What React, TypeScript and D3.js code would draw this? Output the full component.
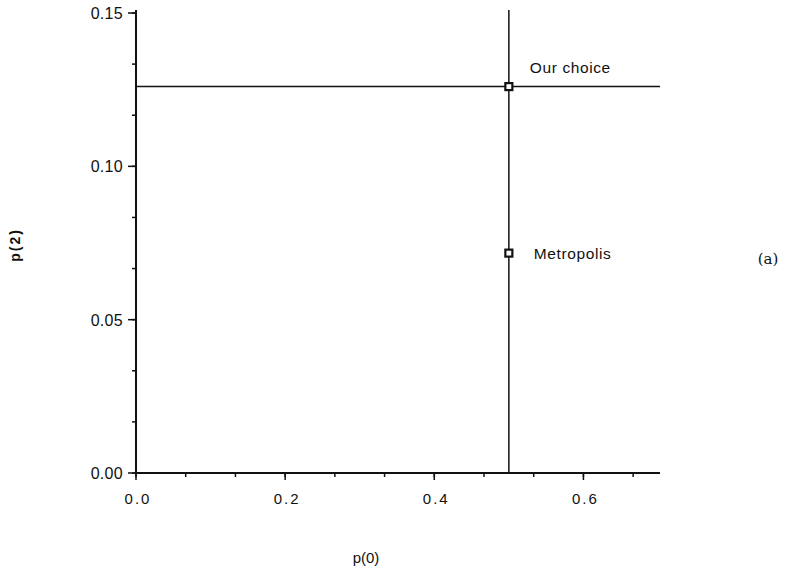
import * as d3 from 'd3';
import { useRef, useEffect } from 'react';

// AXIS RANGES AND TICKS
const xDomain = [0, 0.7];
const yDomain = [0, 0.15];
const xMajorTicks = [0, 0.2, 0.4, 0.6];
const yMajorTicks = [0, 0.05, 0.1, 0.15];
const xMinorTicks = d3.range(0, 11).map((i) => i / 15);
const yMinorTicks = d3.range(0, 10).map((i) => i / 60);

// GUIDE LINES
const guideP0 = 0.5;
const guideP2 = 0.126;

// POINTS
const pointLabels = ['Our choice', 'Metropolis'];
const pointP0 = [0.5, 0.5];
const pointP2 = [0.126, 0.0717];

const width = 792;
const height = 573;
const margin = { top: 13, bottom: 100, left: 136, right: 134 };

function App() {
  const svgRef = useRef<SVGSVGElement>(null);

  useEffect(() => {
    const svg = d3.select(svgRef.current);
    svg.selectAll('*').remove();

    const xScale = d3
      .scaleLinear()
      .domain(xDomain)
      .range([margin.left, width - margin.right]);
    const yScale = d3
      .scaleLinear()
      .domain(yDomain)
      .range([height - margin.bottom, margin.top]);

    const font = '"Liberation Sans", Arial, sans-serif';
    const y0 = yScale(0);
    const x0 = xScale(0);

    // minor ticks
    svg
      .append('g')
      .selectAll('line')
      .data(xMinorTicks)
      .join('line')
      .attr('x1', (d) => xScale(d))
      .attr('x2', (d) => xScale(d))
      .attr('y1', y0)
      .attr('y2', y0 + 4)
      .attr('stroke', '#111')
      .attr('stroke-width', 1.5);
    svg
      .append('g')
      .selectAll('line')
      .data(yMinorTicks)
      .join('line')
      .attr('x1', x0)
      .attr('x2', x0 - 4)
      .attr('y1', (d) => yScale(d))
      .attr('y2', (d) => yScale(d))
      .attr('stroke', '#111')
      .attr('stroke-width', 1.5);

    // major ticks
    svg
      .append('g')
      .selectAll('line')
      .data(xMajorTicks)
      .join('line')
      .attr('x1', (d) => xScale(d))
      .attr('x2', (d) => xScale(d))
      .attr('y1', y0)
      .attr('y2', y0 + 7)
      .attr('stroke', '#111')
      .attr('stroke-width', 1.5);
    svg
      .append('g')
      .selectAll('line')
      .data(yMajorTicks)
      .join('line')
      .attr('x1', x0)
      .attr('x2', x0 - 8)
      .attr('y1', (d) => yScale(d))
      .attr('y2', (d) => yScale(d))
      .attr('stroke', '#111')
      .attr('stroke-width', 1.5);

    // tick labels
    svg
      .append('g')
      .selectAll('text')
      .data(xMajorTicks)
      .join('text')
      .attr('x', (d) => xScale(d) + 2)
      .attr('y', y0 + 31)
      .attr('text-anchor', 'middle')
      .attr('font-family', font)
      .attr('font-size', 15)
      .attr('letter-spacing', 2)
      .attr('fill', '#111')
      .text((d) => d3.format('.1f')(d));
    svg
      .append('g')
      .selectAll('text')
      .data(yMajorTicks)
      .join('text')
      .attr('x', x0 - 13)
      .attr('y', (d) => yScale(d) + 6)
      .attr('text-anchor', 'end')
      .attr('font-family', font)
      .attr('font-size', 16)
      .attr('letter-spacing', 0.3)
      .attr('fill', '#111')
      .text((d) => d3.format('.2f')(d));

    // axes
    svg
      .append('line')
      .attr('x1', x0)
      .attr('x2', x0)
      .attr('y1', y0)
      .attr('y2', yScale(yDomain[1]) - 3)
      .attr('stroke', '#111')
      .attr('stroke-width', 2);
    svg
      .append('line')
      .attr('x1', x0)
      .attr('x2', xScale(xDomain[1]) + 2)
      .attr('y1', y0)
      .attr('y2', y0)
      .attr('stroke', '#111')
      .attr('stroke-width', 2);

    // guide lines
    svg
      .append('line')
      .attr('x1', xScale(guideP0))
      .attr('x2', xScale(guideP0))
      .attr('y1', y0)
      .attr('y2', yScale(yDomain[1]) - 3)
      .attr('stroke', '#111')
      .attr('stroke-width', 1.5);
    svg
      .append('line')
      .attr('x1', x0)
      .attr('x2', xScale(xDomain[1]) + 2)
      .attr('y1', yScale(guideP2))
      .attr('y2', yScale(guideP2))
      .attr('stroke', '#111')
      .attr('stroke-width', 1.5);

    // points
    const pts = pointLabels.map((label, i) => ({
      label,
      p0: pointP0[i],
      p2: pointP2[i],
    }));
    svg
      .append('g')
      .selectAll('rect')
      .data(pts)
      .join('rect')
      .attr('x', (d) => xScale(d.p0) - 3.5)
      .attr('y', (d) => yScale(d.p2) - 3.5)
      .attr('width', 7)
      .attr('height', 7)
      .attr('fill', '#fff')
      .attr('stroke', '#111')
      .attr('stroke-width', 2.2);

    svg
      .append('g')
      .selectAll('text')
      .data(pts)
      .join('text')
      .attr('x', (d, i) => xScale(d.p0) + (i === 0 ? 21 : 25))
      .attr('y', (d, i) => yScale(d.p2) + (i === 0 ? -14 : 6))
      .attr('font-family', font)
      .attr('font-size', 15.5)
      .attr('letter-spacing', 0.6)
      .attr('fill', '#111')
      .text((d) => d.label);

    // axis titles
    svg
      .append('text')
      .attr('x', 366)
      .attr('y', 563)
      .attr('text-anchor', 'middle')
      .attr('font-family', font)
      .attr('font-size', 15)
      .attr('fill', '#111')
      .text('p(0)');
    svg
      .append('text')
      .attr('transform', 'translate(20, 245) rotate(-90)')
      .attr('text-anchor', 'middle')
      .attr('font-family', font)
      .attr('font-size', 14)
      .attr('font-weight', 'bold')
      .attr('letter-spacing', 2)
      .attr('fill', '#111')
      .text('p(2)');

    // panel label
    svg
      .append('text')
      .attr('x', 768)
      .attr('y', 264)
      .attr('text-anchor', 'middle')
      .attr('font-family', '"DejaVu Serif", serif')
      .attr('font-size', 15)
      .attr('fill', '#111')
      .text('(a)');
  }, []);

  return (
    <svg
      width={width}
      height={height}
      ref={svgRef}
      style={{ position: 'absolute', top: 0, left: 0, display: 'block' }}
    />
  );
}

export default App;
